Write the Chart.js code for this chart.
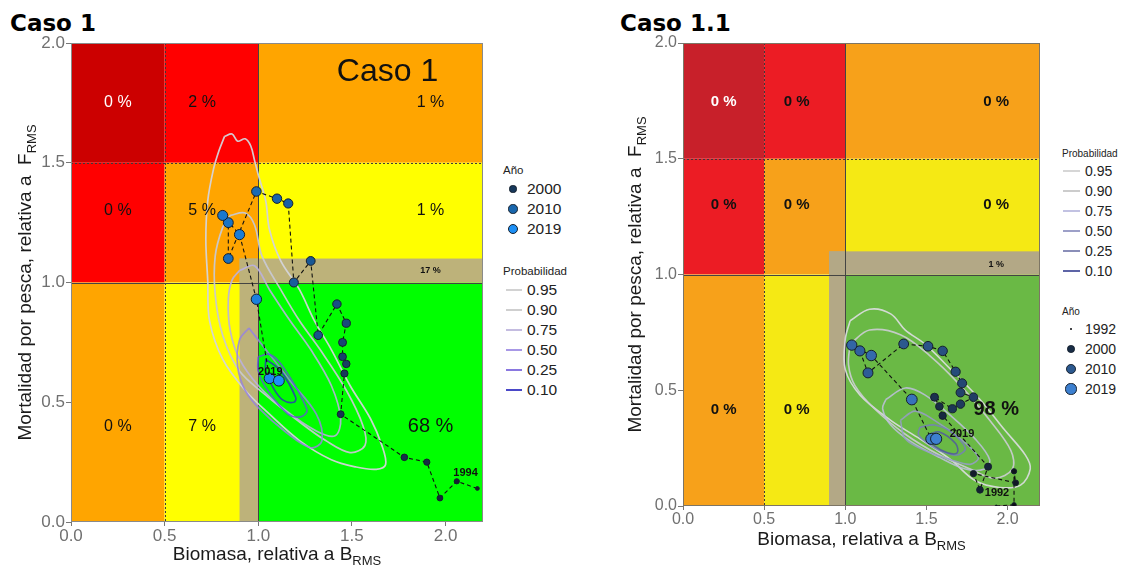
<!DOCTYPE html>
<html lang="es">
<head>
<meta charset="utf-8">
<title>Diagramas de fase: Caso 1 y Caso 1.1</title>
<script src="https://cdn.jsdelivr.net/npm/chart.js@4.4.1/dist/chart.umd.min.js"></script>
<style>
  html,body{margin:0;padding:0;background:#fff;}
  body{position:relative;width:1129px;height:565px;overflow:hidden;font-family:'Liberation Sans',Arial,Helvetica,sans-serif;}
  canvas{position:absolute;top:0;}
  .caso{position:absolute;top:9px;font-family:'DejaVu Sans',Verdana,sans-serif;font-weight:bold;font-size:23px;line-height:28px;color:#000;white-space:nowrap;}
  .leg{position:absolute;top:0;color:#222;}
  .leg div{position:absolute;white-space:nowrap;}
</style>
</head>
<body>
<div class="caso" style="left:10px">Caso 1</div>
<div class="caso" style="left:620px">Caso 1.1</div>
<canvas id="kobe1" width="500" height="565" style="left:0"></canvas>
<canvas id="kobe11" width="450" height="565" style="left:600px"></canvas>
<div class="leg" id="leg1" style="left:503px"></div>
<div class="leg" id="leg11" style="left:1062px"></div>
<script>
// ---------- shared axes / zones ----------
const B_TICKS = [0, 0.5, 1.0, 1.5, 2.0];
const F_TICKS = [0, 0.5, 1.0, 1.5, 2.0];
const B_MAX = 2.2;
const F_MAX = 2.0;
// zone grid: rows from top (F) and columns from left (B)
const F_ROWS = [[1.5, 2.0], [1.0, 1.5], [0, 1.0]];
const B_COLS = [[0, 0.5], [0.5, 1.0], [1.0, 2.2]];
const ZONE_STATUS = [
  ['agotado', 'sobreexplotado', 'sobrepesca'],
  ['sobreexplotado', 'sobrepesca', 'plenaSobrepesca'],
  ['sobrepesca', 'plenaSobrepesca', 'plena']
];
// buffer band around the reference points
const BUFFER_B = [0.9, 1.0];
const BUFFER_F = [1.0, 1.1];
const PROB_LEVELS = ['0.95', '0.90', '0.75', '0.50', '0.25', '0.10'];

// ---------- Caso 1 ----------
const caso1Pct = [[0, 2, 1], [0, 5, 1], [0, 7, 68]];
const caso1BufferPct = 17;
const caso1Year = [1994, 1995, 1996, 1997, 1998, 1999, 2000, 2001, 2002, 2003, 2004, 2005, 2006,
                   2007, 2008, 2009, 2010, 2011, 2012, 2013, 2014, 2015, 2016, 2018, 2019];
const caso1B = [2.17, 2.06, 1.97, 1.90, 1.78, 1.44, 1.46, 1.47, 1.45, 1.45, 1.47, 1.42, 1.32,
                1.28, 1.19, 1.16, 1.10, 0.99, 0.84, 0.84, 0.81, 0.90, 0.99, 1.06, 1.11];
const caso1F = [0.14, 0.17, 0.10, 0.25, 0.27, 0.45, 0.62, 0.66, 0.69, 0.75, 0.83, 0.91, 0.78,
                1.09, 1.00, 1.33, 1.35, 1.38, 1.10, 1.25, 1.28, 1.20, 0.93, 0.60, 0.59];
const caso1C95 = [[0.82,1.61],[0.86,1.62],[0.89,1.59],[0.93,1.60],[0.96,1.57],[0.98,1.51],[1.00,1.45],[1.04,1.34],[1.06,1.22],[1.12,1.09],[1.22,0.97],[1.30,0.84],[1.39,0.72],[1.49,0.57],[1.60,0.43],[1.66,0.32],[1.68,0.24],[1.63,0.22],[1.52,0.23],[1.39,0.26],[1.22,0.34],[1.06,0.45],[0.93,0.55],[0.81,0.68],[0.74,0.84],[0.73,1.01],[0.72,1.18],[0.73,1.34],[0.76,1.47],[0.79,1.55],[0.82,1.61]];
const caso1C90 = [[0.85,1.28],[0.93,1.29],[0.98,1.24],[1.02,1.11],[1.12,0.97],[1.22,0.84],[1.33,0.72],[1.47,0.55],[1.56,0.40],[1.57,0.32],[1.49,0.29],[1.36,0.34],[1.20,0.43],[1.04,0.53],[0.90,0.63],[0.81,0.78],[0.77,0.95],[0.77,1.11],[0.81,1.23],[0.85,1.28]];
const caso1C75 = [[0.90,1.05],[0.98,1.07],[1.06,0.97],[1.17,0.84],[1.28,0.72],[1.39,0.57],[1.44,0.43],[1.41,0.36],[1.31,0.38],[1.14,0.47],[1.00,0.57],[0.90,0.68],[0.85,0.80],[0.84,0.93],[0.86,1.01],[0.90,1.05]];
const caso1C50 = [[0.95,0.81],[1.02,0.74],[1.17,0.59],[1.31,0.45],[1.34,0.34],[1.28,0.31],[1.14,0.38],[1.01,0.47],[0.93,0.55],[0.89,0.65],[0.90,0.76],[0.95,0.81]];
const caso1C25 = [[1.00,0.69],[1.06,0.70],[1.13,0.65],[1.26,0.47],[1.23,0.44],[1.16,0.45],[1.05,0.55],[1.00,0.63],[1.00,0.69]];
const caso1C10 = [[1.04,0.68],[1.12,0.63],[1.20,0.52],[1.19,0.50],[1.13,0.51],[1.08,0.56],[1.04,0.63],[1.04,0.68]];
const caso1Legend = [2000, 2010, 2019];

// ---------- Caso 1.1 ----------
const caso11Pct = [[0, 0, 0], [0, 0, 0], [0, 0, 98]];
const caso11BufferPct = 1;
const caso11Year = [1992, 1993, 1994, 1995, 1996, 1997, 1998, 1999, 2000, 2001, 2002, 2003, 2004,
                    2005, 2006, 2007, 2008, 2009, 2010, 2011, 2012, 2013, 2014, 2016, 2018, 2019];
const caso11B = [1.93, 2.04, 2.04, 2.05, 1.79, 1.83, 1.88, 1.60, 1.58, 1.55, 1.66, 1.71, 1.79,
                 1.71, 1.72, 1.68, 1.60, 1.51, 1.36, 1.14, 1.09, 1.04, 1.16, 1.41, 1.53, 1.56];
const caso11F = [0.00, 0.005, 0.15, 0.10, 0.14, 0.07, 0.17, 0.39, 0.43, 0.47, 0.42, 0.44, 0.47,
                 0.49, 0.53, 0.58, 0.67, 0.69, 0.70, 0.575, 0.67, 0.695, 0.65, 0.46, 0.29, 0.29];
const caso11C95 = [[1.03,0.80],[1.15,0.85],[1.28,0.83],[1.37,0.76],[1.49,0.70],[1.65,0.59],[1.83,0.46],[1.98,0.33],[2.11,0.22],[2.14,0.16],[2.08,0.09],[1.95,0.08],[1.80,0.11],[1.65,0.20],[1.46,0.29],[1.28,0.37],[1.09,0.48],[1.00,0.59],[1.00,0.72],[1.03,0.80]];
const caso11C90 = [[1.03,0.70],[1.15,0.76],[1.34,0.74],[1.52,0.65],[1.71,0.52],[1.89,0.37],[2.02,0.24],[2.03,0.16],[1.92,0.12],[1.77,0.16],[1.58,0.22],[1.37,0.31],[1.18,0.42],[1.06,0.52],[1.02,0.61],[1.03,0.70]];
const caso11C75 = [[1.25,0.46],[1.37,0.51],[1.49,0.48],[1.65,0.39],[1.80,0.29],[1.89,0.20],[1.86,0.16],[1.74,0.16],[1.58,0.21],[1.40,0.28],[1.28,0.35],[1.23,0.42],[1.25,0.46]];
const caso11C50 = [[1.34,0.37],[1.43,0.41],[1.55,0.37],[1.71,0.29],[1.82,0.21],[1.77,0.18],[1.65,0.20],[1.49,0.24],[1.37,0.29],[1.34,0.37]];
const caso11C25 = [[1.46,0.34],[1.55,0.35],[1.65,0.32],[1.74,0.25],[1.69,0.22],[1.58,0.24],[1.49,0.28],[1.45,0.31],[1.46,0.34]];
const caso11C10 = [[1.52,0.31],[1.58,0.32],[1.68,0.27],[1.69,0.23],[1.63,0.23],[1.55,0.26],[1.52,0.29],[1.52,0.31]];
const caso11Legend = [1992, 2000, 2010, 2019];

// ---------- helpers ----------
Chart.defaults.font.family = "'Liberation Sans', Arial, Helvetica, sans-serif";

function hexRgb(h) { return [1, 3, 5].map(i => parseInt(h.slice(i, i + 2), 16)); }
function mix(c0, c1, t) {
  const a = hexRgb(c0), b = hexRgb(c1);
  return 'rgb(' + a.map((v, i) => Math.round(v + (b[i] - v) * t)).join(',') + ')';
}

function kobeChart(canvas, s) {
  const yearT = yr => Math.max(0, Math.min(1, (yr - s.yearRange[0]) / (s.yearRange[1] - s.yearRange[0])));
  s.pointColor = yr => mix(s.yearColors[0], s.yearColors[1], yearT(yr));
  // point size grows with the year
  s.pointRadius = yr => s.radius[0] + (s.radius[1] - s.radius[0]) * Math.pow(yearT(yr), s.radiusPow);

  const zones = {
    id: 'zones',
    beforeDatasetsDraw(chart) {
      const { ctx, chartArea: a, scales: { x, y } } = chart;
      const X = v => x.getPixelForValue(v), Y = v => y.getPixelForValue(v);
      ctx.save();
      ctx.beginPath(); ctx.rect(a.left, a.top, a.width, a.height); ctx.clip();
      F_ROWS.forEach((fr, r) => B_COLS.forEach((bc, c) => {
        ctx.fillStyle = s.palette[ZONE_STATUS[r][c]];
        ctx.fillRect(X(bc[0]), Y(fr[1]), X(bc[1]) - X(bc[0]), Y(fr[0]) - Y(fr[1]));
      }));
      // precautionary buffer
      ctx.fillStyle = s.palette.buffer;
      ctx.fillRect(X(BUFFER_B[0]), Y(BUFFER_F[1]), X(BUFFER_B[1]) - X(BUFFER_B[0]), Y(0) - Y(BUFFER_F[1]));
      ctx.fillRect(X(BUFFER_B[0]), Y(BUFFER_F[1]), X(B_MAX) - X(BUFFER_B[0]), Y(BUFFER_F[0]) - Y(BUFFER_F[1]));
      // limit (dotted) and target (solid) reference lines
      ctx.strokeStyle = '#3a3a3a'; ctx.lineWidth = 1;
      ctx.setLineDash([2, 2]);
      ctx.beginPath();
      ctx.moveTo(Math.round(X(0.5)) + 0.5, Y(F_MAX)); ctx.lineTo(Math.round(X(0.5)) + 0.5, Y(0));
      ctx.moveTo(X(0), Math.round(Y(1.5)) + 0.5); ctx.lineTo(X(B_MAX), Math.round(Y(1.5)) + 0.5);
      ctx.stroke();
      ctx.setLineDash([]);
      ctx.strokeStyle = '#444';
      ctx.beginPath();
      ctx.moveTo(Math.round(X(1)) + 0.5, Y(F_MAX)); ctx.lineTo(Math.round(X(1)) + 0.5, Y(0));
      ctx.moveTo(X(0), Math.round(Y(1)) + 0.5); ctx.lineTo(X(B_MAX), Math.round(Y(1)) + 0.5);
      ctx.stroke();
      if (s.caption) {
        ctx.textAlign = 'center'; ctx.textBaseline = 'middle'; ctx.fillStyle = '#111';
        ctx.font = '32px "Liberation Sans", Arial, sans-serif';
        ctx.fillText(s.caption.text, X(s.caption.b), Y(s.caption.f));
      }
      ctx.restore();
      // frame
      ctx.save();
      ctx.strokeStyle = s.frame; ctx.lineWidth = 1;
      ctx.strokeRect(a.left + 0.5, a.top + 0.5, a.width - 1, a.height - 1);
      ctx.restore();
    },
    afterDatasetsDraw(chart) {
      const { ctx, scales: { x, y } } = chart;
      const X = v => x.getPixelForValue(v), Y = v => y.getPixelForValue(v);
      ctx.save();
      ctx.textAlign = 'center'; ctx.textBaseline = 'middle';
      // probability of each zone
      s.pct.forEach((row, r) => row.forEach((p, c) => {
        const big = (r === 2 && c === 2);
        ctx.font = big ? s.bigFont : s.pctFont;
        ctx.fillStyle = (r === 0 && c === 0) ? '#fff' : '#111';
        ctx.fillText(p + ' %', X(s.pctB[c]), Y(s.pctF[r]));
      }));
      ctx.font = s.bufferFont; ctx.fillStyle = '#111';
      ctx.fillText(s.bufferPct + ' %', X(s.pctB[2]), Y(s.bufferF));
      // first / last year of the trajectory
      ctx.font = 'bold 11px "Liberation Sans", Arial, sans-serif';
      s.yearLabels.forEach(l => ctx.fillText(l.text, X(l.b), Y(l.f)));
      ctx.restore();
    },
    afterDraw(chart) {
      const { ctx, chartArea: a } = chart;
      const main = '19px "Liberation Sans", Arial, sans-serif';
      const sub = '13px "Liberation Sans", Arial, sans-serif';
      function subText(txt, subTxt, cx, base) {
        ctx.font = main; const w1 = ctx.measureText(txt).width;
        ctx.font = sub; const w2 = ctx.measureText(subTxt).width;
        const x0 = cx - (w1 + w2) / 2;
        ctx.textAlign = 'left'; ctx.textBaseline = 'alphabetic';
        ctx.font = main; ctx.fillText(txt, x0, base);
        ctx.font = sub; ctx.fillText(subTxt, x0 + w1, base + 5);
      }
      ctx.save();
      ctx.fillStyle = '#1a1a1a';
      subText('Biomasa, relativa a B', 'RMS', (a.left + a.right) / 2, s.xTitleBase);
      ctx.translate(s.yTitleBase, (a.top + a.bottom) / 2);
      ctx.rotate(-Math.PI / 2);
      subText('Mortalidad por pesca, relativa a  F', 'RMS', 0, 0);
      ctx.restore();
    }
  };

  const pts = (B, F) => B.map((b, i) => ({ x: b, y: F[i] }));
  const pairs = arr => arr.map(([b, f]) => ({ x: b, y: f }));
  const contours = s.contours.map((c, i) => ({
    data: pairs(c), showLine: true, fill: false, pointRadius: 0, pointHoverRadius: 0,
    borderColor: s.contourColors[i], borderWidth: s.contourWidth, tension: 0.35
  }));

  return new Chart(canvas, {
    type: 'scatter',
    data: {
      datasets: [{
        data: pts(s.B, s.F), showLine: true, tension: 0,
        borderColor: '#111', borderWidth: 1.1, borderDash: [4, 3],
        pointRadius: s.year.map(s.pointRadius),
        pointHoverRadius: s.year.map(s.pointRadius),
        pointBackgroundColor: s.year.map(s.pointColor),
        pointBorderColor: '#15202d', pointBorderWidth: 1
      }].concat(contours.slice().reverse())
    },
    options: {
      responsive: false, animation: false, devicePixelRatio: 1,
      layout: { padding: { top: s.padTop, right: s.padRight, left: 0, bottom: 0 } },
      plugins: { legend: { display: false }, tooltip: { enabled: false } },
      events: [],
      scales: {
        x: {
          type: 'linear', min: 0, max: B_MAX,
          afterBuildTicks: sc => { sc.ticks = B_TICKS.map(v => ({ value: v })); },
          afterFit: sc => { sc.height = s.xAxisH; },
          ticks: { callback: v => v.toFixed(1), color: '#707070', font: { size: s.tickSize }, padding: 0, maxRotation: 0 },
          grid: { display: true, drawOnChartArea: false, drawTicks: true, tickLength: 4, tickColor: '#777' },
          border: { display: false }
        },
        y: {
          type: 'linear', min: 0, max: F_MAX,
          afterBuildTicks: sc => { sc.ticks = F_TICKS.map(v => ({ value: v })); },
          afterFit: sc => { sc.width = s.yAxisW; },
          ticks: { callback: v => v.toFixed(1), color: '#707070', font: { size: s.tickSize }, padding: 1 },
          grid: { display: true, drawOnChartArea: false, drawTicks: true, tickLength: 5, tickColor: '#777' },
          border: { display: false }
        }
      }
    },
    plugins: [zones]
  });
}

function buildLegend(el, sections, geo) {
  let html = '';
  sections.forEach(sec => {
    html += `<div style="left:0;top:${sec.top - 8}px;height:16px;line-height:16px;font-size:${geo.hdSize}px">${sec.title}</div>`;
    sec.items.forEach((it, i) => {
      const cy = sec.top + geo.first + i * 20;
      if (it.r !== undefined) {
        html += `<div style="left:${geo.dotX - it.r}px;top:${cy - it.r}px;width:${2 * it.r}px;height:${2 * it.r}px;border-radius:50%;background:${it.color};box-sizing:border-box;border:${it.r > 2 ? '1px solid #15202d' : 'none'}"></div>`;
      } else {
        html += `<div style="left:${geo.lineX[0]}px;top:${cy - 1}px;width:${geo.lineX[1] - geo.lineX[0]}px;height:2px;background:${it.color}"></div>`;
      }
      html += `<div style="left:${geo.textX}px;top:${cy - 10}px;height:20px;line-height:20px;font-size:${geo.itemSize}px">${it.label}</div>`;
    });
  });
  el.innerHTML = html;
}

// ---------- Caso 1 ----------
const s1 = {
  year: caso1Year, B: caso1B, F: caso1F,
  contours: [caso1C95, caso1C90, caso1C75, caso1C50, caso1C25, caso1C10],
  contourColors: ['rgba(212,212,218,0.95)', 'rgba(200,200,210,0.95)', 'rgba(186,176,222,0.9)',
                  'rgba(150,130,225,0.85)', 'rgba(95,85,210,0.8)', 'rgba(45,45,190,0.8)'],
  contourWidth: 1.7,
  palette: { agotado: '#cc0000', sobreexplotado: '#ff0000', sobrepesca: '#ffa500',
             plenaSobrepesca: '#ffff00', plena: '#00ff00', buffer: '#bdb27a' },
  frame: '#8a8a8a',
  pct: caso1Pct, bufferPct: caso1BufferPct,
  pctB: [0.25, 0.70, 1.92], pctF: [1.75, 1.30, 0.40], bufferF: 1.05,
  pctFont: '16px "Liberation Sans", Arial, sans-serif',
  bigFont: '20px "Liberation Sans", Arial, sans-serif',
  bufferFont: 'bold 9px "Liberation Sans", Arial, sans-serif',
  caption: { text: 'Caso 1', b: 1.69, f: 1.88 },
  yearLabels: [{ text: '2019', b: 1.064, f: 0.625 }, { text: '1994', b: 2.107, f: 0.204 }],
  yearRange: [1994, 2019], yearColors: ['#151d2b', '#1c8ff5'], radius: [1.9, 5.4], radiusPow: 0.5,
  padTop: 43, padRight: 17, xAxisH: 43, yAxisW: 71, tickSize: 17,
  xTitleBase: 560, yTitleBase: 31
};
kobeChart(document.getElementById('kobe1'), s1);

// ---------- Caso 1.1 ----------
const s11 = {
  year: caso11Year, B: caso11B, F: caso11F,
  contours: [caso11C95, caso11C90, caso11C75, caso11C50, caso11C25, caso11C10],
  contourColors: ['rgba(222,222,226,0.9)', 'rgba(205,205,212,0.9)', 'rgba(190,192,222,0.85)',
                  'rgba(150,156,200,0.85)', 'rgba(118,126,186,0.85)', 'rgba(80,88,160,0.85)'],
  contourWidth: 1.6,
  palette: { agotado: '#c8202a', sobreexplotado: '#ec1c24', sobrepesca: '#f7a11a',
             plenaSobrepesca: '#f5e914', plena: '#6ab945', buffer: '#b3a886' },
  frame: '#7d7565',
  pct: caso11Pct, bufferPct: caso11BufferPct,
  pctB: [0.25, 0.70, 1.93], pctF: [1.745, 1.30, 0.415], bufferF: 1.045,
  pctFont: 'bold 15px "Liberation Sans", Arial, sans-serif',
  bigFont: 'bold 20px "Liberation Sans", Arial, sans-serif',
  bufferFont: 'bold 9px "Liberation Sans", Arial, sans-serif',
  caption: null,
  yearLabels: [{ text: '2019', b: 1.72, f: 0.31 }, { text: '1992', b: 1.935, f: 0.056 }],
  yearRange: [1992, 2019], yearColors: ['#0a0a0e', '#3d80d0'], radius: [1.0, 5.6], radiusPow: 0.4,
  padTop: 43, padRight: 10, xAxisH: 59, yAxisW: 83, tickSize: 16,
  xTitleBase: 545, yTitleBase: 41
};
kobeChart(document.getElementById('kobe11'), s11);

// ---------- legends ----------
const leg1ProbColors = ['#d2d2d2', '#cfcfcf', '#c4bce0', '#a898e6', '#8a78e0', '#4a48c8'];
const leg11ProbColors = ['#d6d6d6', '#cccccc', '#c2c2e2', '#9da0c8', '#8a8eb8', '#5d64a6'];

buildLegend(document.getElementById('leg1'), [
  { title: 'Año', top: 170, items: caso1Legend.map(yr => ({ label: yr, r: s1.pointRadius(yr), color: s1.pointColor(yr) })) },
  { title: 'Probabilidad', top: 271, items: PROB_LEVELS.map((p, i) => ({ label: p, color: leg1ProbColors[i] })) }
], { hdSize: 11.5, itemSize: 15.5, first: 19, dotX: 10, lineX: [3, 19], textX: 24 });

buildLegend(document.getElementById('leg11'), [
  { title: 'Probabilidad', top: 154, items: PROB_LEVELS.map((p, i) => ({ label: p, color: leg11ProbColors[i] })) },
  { title: 'Año', top: 312, items: caso11Legend.map(yr => ({ label: yr, r: s11.pointRadius(yr), color: s11.pointColor(yr) })) }
], { hdSize: 10, itemSize: 14, first: 17, dotX: 9, lineX: [1, 18], textX: 23 });
</script>
</body>
</html>
